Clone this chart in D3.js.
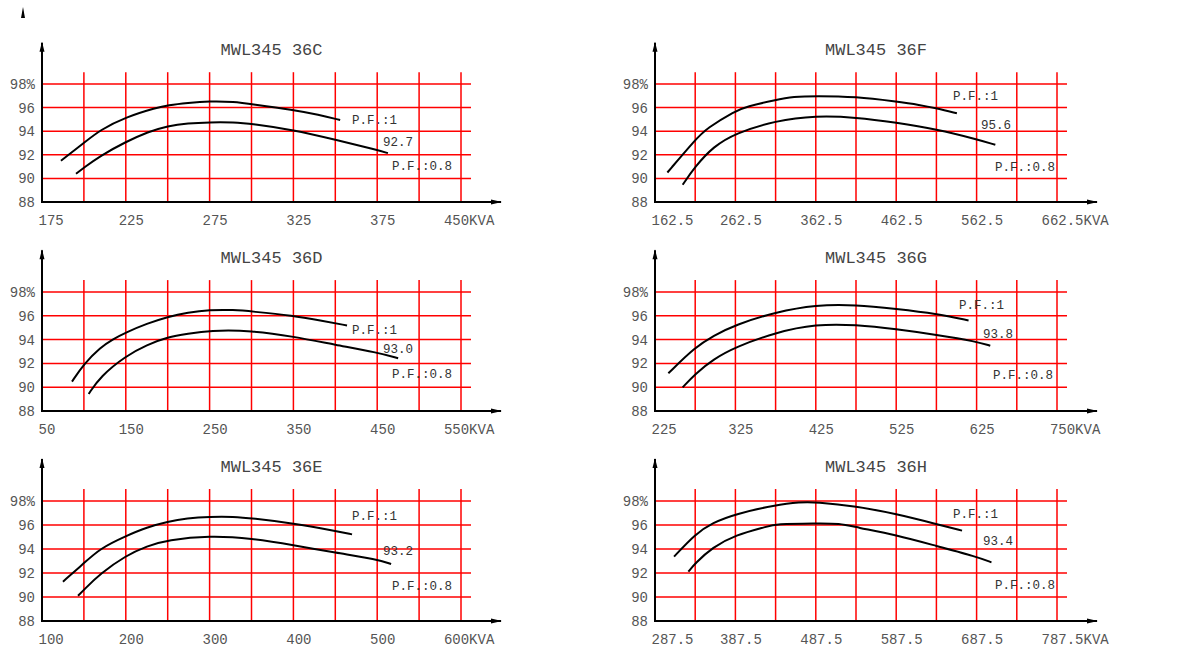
<!DOCTYPE html>
<html>
<head>
<meta charset="utf-8">
<script src="https://cdn.jsdelivr.net/npm/d3@7"></script>
<style>
  html, body { margin: 0; padding: 0; background: #fff; }
  svg { display: block; }
</style>
</head>
<body>
<svg width="1183" height="648"></svg>
<script>
// ---- dados ----
const panelNames = ["MWL345 36C", "MWL345 36F", "MWL345 36D", "MWL345 36G", "MWL345 36E", "MWL345 36H"];
const kvaStart = [175, 162.5, 50, 225, 100, 287.5];
const kvaStep  = [25, 50, 50, 50, 50, 50];   // kVA por linha de grade

const xLabels = [
  ["175", "225", "275", "325", "375", "450KVA"],
  ["162.5", "262.5", "362.5", "462.5", "562.5", "662.5KVA"],
  ["50", "150", "250", "350", "450", "550KVA"],
  ["225", "325", "425", "525", "625", "750KVA"],
  ["100", "200", "300", "400", "500", "600KVA"],
  ["287.5", "387.5", "487.5", "587.5", "687.5", "787.5KVA"]
];
const yTicks  = [88, 90, 92, 94, 96, 98];
const yLabels = ["88", "90", "92", "94", "96", "98%"];

const pfNames   = ["P.F.:1", "P.F.:0.8"];
const midValues = ["92.7", "95.6", "93.0", "93.8", "93.2", "93.4"];

// curvas [kVA, rendimento %]
const pf1_36C  = [[186.3,91.5],[200,93.0],[209.6,94.1],[225,95.2],[243.5,96.0],[250,96.2],[262,96.4],[275,96.55],[289.6,96.5],[300,96.3],[325,95.8],[340,95.4],[352.9,94.95]];
const pf08_36C = [[195.3,90.4],[200,90.9],[209.6,91.9],[225,93.1],[238.3,93.95],[250,94.45],[262,94.68],[275,94.76],[289.6,94.76],[300,94.62],[325,94.11],[350,93.27],[375,92.42],[381.4,92.14]];

const pf1_36F  = [[177.9,90.5],[212.5,93.27],[226.8,94.25],[262.5,95.72],[276,96.08],[312.5,96.65],[334.7,96.93],[362.5,96.99],[412.5,96.93],[462.5,96.51],[492,96.23],[512.5,95.94],[538,95.52]];
const pf08_36F = [[196.9,89.46],[212.5,91.01],[235.1,92.7],[262.5,93.83],[312.5,94.9],[362.5,95.32],[412.5,95.18],[462.5,94.73],[512.5,94.17],[562.5,93.32],[585.8,92.85]];

const pf1_36D  = [[85.8,90.47],[100,91.95],[119.6,93.35],[135,94.05],[150,94.6],[175.3,95.35],[200,95.92],[224,96.28],[250,96.5],[279,96.5],[300,96.37],[350,96.0],[382,95.6],[414,95.19]];
const pf08_36D = [[105.7,89.43],[119.6,90.9],[150,92.63],[175.3,93.56],[200,94.21],[224,94.49],[250,94.77],[300,94.77],[350,94.26],[400,93.56],[450,92.92],[475,92.44]];

const pf1_36G  = [[241.6,91.17],[275,93.37],[297.6,94.32],[325,95.25],[375,96.31],[425,96.93],[475,96.93],[525,96.57],[575,96.17],[615,95.61]];
const pf08_36G = [[259.4,89.99],[275,91.12],[297.6,92.35],[325,93.37],[375,94.6],[425,95.3],[475,95.25],[525,94.88],[575,94.4],[625,93.84],[642,93.48]];

const pf1_36E  = [[125,91.28],[150,92.81],[169.6,94.06],[200,95.08],[225.3,95.81],[250,96.28],[273,96.56],[300,96.69],[329,96.69],[350,96.56],[400,96.14],[450,95.5],[470,95.22]];
const pf08_36E = [[143,90.1],[150,90.6],[169.6,91.95],[200,93.45],[225.3,94.25],[250,94.75],[300,95.11],[350,94.89],[400,94.33],[450,93.69],[500,93.14],[516.6,92.75]];

const pf1_36H  = [[311.2,93.36],[337.5,95.25],[359.1,96.19],[387.5,96.92],[437.5,97.67],[468,97.92],[487.5,97.92],[537.5,97.58],[587.5,96.92],[637.5,96.08],[669.4,95.53]];
const pf08_36H = [[329,92.11],[337.5,92.81],[359.1,94.14],[387.5,95.17],[426.5,95.86],[437.5,96.08],[487.5,96.14],[517.6,96.14],[537.5,95.81],[587.5,95.17],[637.5,94.25],[687.5,93.36],[706,92.89]];

const curvesPF1  = [pf1_36C, pf1_36F, pf1_36D, pf1_36G, pf1_36E, pf1_36H];
const curvesPF08 = [pf08_36C, pf08_36F, pf08_36D, pf08_36G, pf08_36E, pf08_36H];

// ---- layout ----
const cols = [{ left: 42, right: 461 }, { left: 655, right: 1057 }];
const rows = [{ bottom: 202, top: 84 }, { bottom: 411, top: 292 }, { bottom: 621, top: 501 }];

// posições dos rótulos (em kVA / %)
const pf1Anchor  = [[360,94.95],[533.2,96.98],[419.9,94.8],[603.1,96.91],[469.8,96.75],[658.2,96.92]];
const midAnchor  = [[378.5,93.08],[568,94.53],[456.8,93.27],[633,94.47],[506.8,93.83],[695.5,94.69]];
const pf08Anchor = [[383.8,91.05],[585.4,90.97],[467.6,91.17],[645.4,91.03],[517.6,90.94],[710.4,91.0]];

const FONT = "'Liberation Mono', 'DejaVu Sans Mono', monospace";
const TICK_FS = 14;
const charW = TICK_FS * 0.6;

const svg = d3.select("svg");

// marca solta no canto
svg.append("path")
  .attr("d", `M${cols[0].left - 21},${rows[0].top - 66} L${cols[0].left - 19},${rows[0].top - 77} L${cols[0].left - 17},${rows[0].top - 66} Z`)
  .attr("fill", "#000");

panelNames.forEach((name, i) => {
  const c = cols[i % 2];
  const r = rows[Math.floor(i / 2)];
  const x0 = kvaStart[i], step = kvaStep[i];

  const x = d3.scaleLinear().domain([x0, x0 + 10 * step]).range([c.left, c.right]);
  const y = d3.scaleLinear().domain([88, 98]).range([r.bottom, r.top]);

  const g = svg.append("g");
  const gridEnd = c.right + 10;
  const axisEnd = c.right + 40;

  // grade vermelha
  g.selectAll(".hgrid")
    .data(yTicks.slice(1))
    .enter().append("line")
    .attr("x1", x(x0)).attr("x2", gridEnd)
    .attr("y1", d => y(d)).attr("y2", d => y(d))
    .attr("stroke", "#ff0000").attr("stroke-width", 1.5);

  g.selectAll(".vgrid")
    .data(d3.range(1, 11).map(k => x0 + k * step))
    .enter().append("line")
    .attr("x1", d => x(d)).attr("x2", d => x(d))
    .attr("y1", y(99)).attr("y2", y(88))
    .attr("stroke", "#ff0000").attr("stroke-width", 1.5);

  // eixos
  const yTopAxis = y(101.5);
  g.append("line")
    .attr("x1", x(x0)).attr("x2", x(x0))
    .attr("y1", y(88) + 1).attr("y2", yTopAxis)
    .attr("stroke", "#000").attr("stroke-width", 2);
  g.append("path")
    .attr("d", `M${x(x0) - 2.5},${yTopAxis + 9} L${x(x0)},${yTopAxis - 1} L${x(x0) + 2.5},${yTopAxis + 9} Z`)
    .attr("fill", "#000");

  g.append("line")
    .attr("x1", x(x0) - 1).attr("x2", axisEnd)
    .attr("y1", y(88)).attr("y2", y(88))
    .attr("stroke", "#000").attr("stroke-width", 2);
  g.append("path")
    .attr("d", `M${axisEnd - 10},${y(88) - 2.5} L${axisEnd + 1},${y(88)} L${axisEnd - 10},${y(88) + 2.5} Z`)
    .attr("fill", "#000");

  // eixo Y - rótulos
  const ya = g.append("g")
    .attr("transform", `translate(${x(x0)},0)`)
    .call(d3.axisLeft(y).tickValues(yTicks).tickSize(0).tickPadding(7)
      .tickFormat((d, k) => yLabels[k]));
  ya.select(".domain").remove();
  ya.selectAll("text")
    .attr("font-family", FONT).attr("font-size", TICK_FS).attr("fill", "#555");

  // eixo X - rótulos
  const xt = d3.range(6).map(k => x0 + 2 * k * step);
  const xa = g.append("g")
    .attr("transform", `translate(0,${y(88)})`)
    .call(d3.axisBottom(x).tickValues(xt).tickSize(0)
      .tickFormat((d, k) => xLabels[i][k]));
  xa.select(".domain").remove();
  xa.selectAll("text")
    .attr("font-family", FONT).attr("font-size", TICK_FS).attr("fill", "#555")
    .attr("text-anchor", "start")
    .attr("y", 18.5).attr("dy", "0.35em")
    .attr("x", (d, k) => {
      const numW = xLabels[i][k].replace("KVA", "").length * charW;
      if (k === 0) return -4;
      if (k === 5) return (i % 2 === 0 ? -5 : 5) - numW / 2;
      return 5 - numW / 2;
    });

  // curvas
  const line = d3.line()
    .x(d => x(d[0]))
    .y(d => y(d[1]))
    .curve(d3.curveBasis);

  [curvesPF1[i], curvesPF08[i]].forEach(cv => {
    g.append("path")
      .datum(cv)
      .attr("fill", "none")
      .attr("stroke", "#000")
      .attr("stroke-width", 2)
      .attr("d", line);
  });

  // rótulos
  const notes = [
    { t: pfNames[0], p: pf1Anchor[i] },
    { t: midValues[i], p: midAnchor[i] },
    { t: pfNames[1], p: pf08Anchor[i] }
  ];
  g.selectAll(".note")
    .data(notes)
    .enter().append("text")
    .attr("x", d => x(d.p[0]))
    .attr("y", d => y(d.p[1]))
    .attr("dy", "0.35em")
    .attr("font-family", FONT)
    .attr("font-size", 12.5)
    .attr("fill", "#333")
    .text(d => d.t);

  // título
  g.append("text")
    .attr("x", (x(x0) + axisEnd) / 2)
    .attr("y", r.top - 35)
    .attr("dy", "0.35em")
    .attr("text-anchor", "middle")
    .attr("font-family", FONT)
    .attr("font-size", 17)
    .attr("fill", "#444")
    .text(name);
});
</script>
</body>
</html>
